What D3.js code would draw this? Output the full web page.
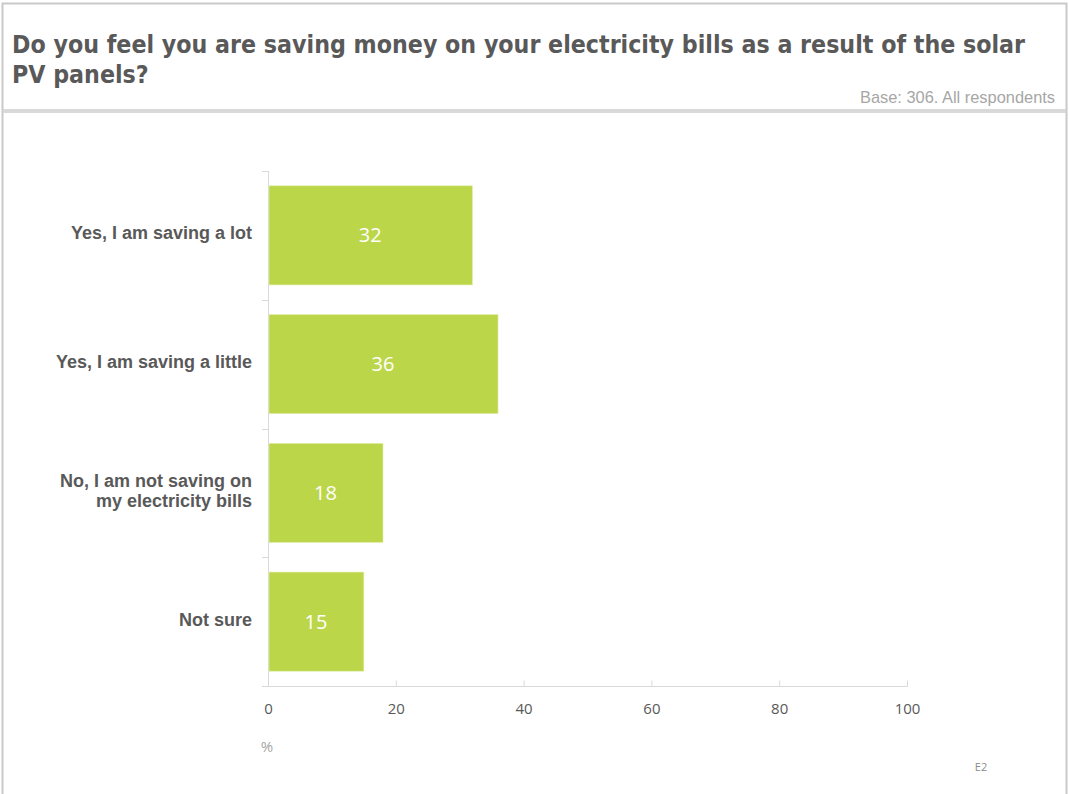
<!DOCTYPE html>
<html>
<head>
<meta charset="utf-8">
<script src="https://cdn.jsdelivr.net/npm/d3@7"></script>
<style>
  html, body { margin: 0; padding: 0; background: #fff; }
  svg { display: block; }
</style>
</head>
<body>
<svg id="chart" width="1069" height="794"></svg>
<script>
// Survey answers and shares (%)
const categories = [
  ["Yes, I am saving a lot"],
  ["Yes, I am saving a little"],
  ["No, I am not saving on", "my electricity bills"],
  ["Not sure"]
];
const values = [32, 36, 18, 15];
const xTicks = [0, 20, 40, 60, 80, 100];

const titleLines = [
  "Do you feel you are saving money on your electricity bills as a result of the solar",
  "PV panels?"
];
const baseNote = "Base: 306. All respondents";
const unitLabel = "%";
const slideCode = "E2";

const svg = d3.select("#chart");

// Slide frame and header band
const frame = svg.append("g");
frame.append("rect").attr("x", 2.5).attr("y", 3.5).attr("width", 1064).attr("height", 800)
  .attr("fill", "none").attr("stroke", "#c9c9c9").attr("stroke-width", 2);
frame.append("rect").attr("x", 3).attr("y", 109).attr("width", 1063).attr("height", 4)
  .attr("fill", "#d9d9d9");

svg.append("g").selectAll("text").data(titleLines).join("text")
  .attr("x", 12).attr("y", (d, i) => 53 + i * 30)
  .attr("font-family", "'DejaVu Sans Condensed', 'DejaVu Sans', sans-serif")
  .attr("font-weight", "bold").attr("font-size", 24.7).attr("fill", "#595959")
  .text(d => d);

svg.append("text").attr("x", 1055).attr("y", 103).attr("text-anchor", "end")
  .attr("font-family", "'Liberation Sans Narrow', 'Liberation Sans', Arial, sans-serif")
  .attr("font-size", 16.4).attr("fill", "#a6a6a6").text(baseNote);

// Plot area
const x = d3.scaleLinear().domain([0, 100]).range([268, 907]);
const y = d3.scaleBand().domain(d3.range(categories.length)).range([171, 686])
  .paddingInner(0.23).paddingOuter(0.115);

const axisColor = "#d9d9d9";

// Category axis with boundary ticks
const catAxis = svg.append("g");
catAxis.append("line").attr("x1", 268.5).attr("x2", 268.5).attr("y1", 171).attr("y2", 686)
  .attr("stroke", axisColor);
const bounds = d3.range(categories.length + 1).map(i => y.range()[0] + i * (y.range()[1] - y.range()[0]) / categories.length);
catAxis.selectAll("line.tk").data(bounds).join("line").attr("class", "tk")
  .attr("x1", 262).attr("x2", 268.5)
  .attr("y1", d => Math.round(d) + 0.5).attr("y2", d => Math.round(d) + 0.5)
  .attr("stroke", axisColor);

// Value axis along the bottom
const xAxis = d3.axisBottom(x).tickValues(xTicks).tickSize(-6).tickPadding(0).tickSizeOuter(0);
const gx = svg.append("g").attr("transform", "translate(0,686.5)").call(xAxis);
gx.select(".domain").attr("stroke", axisColor).attr("d", "M262,0H907.5");
gx.selectAll(".tick line").attr("stroke", axisColor);
gx.selectAll(".tick text")
  .attr("y", 17)
  .attr("font-family", "'Open Sans', 'Noto Sans', sans-serif")
  .attr("font-size", 15).attr("fill", "#595959");

// Bars
svg.append("g").selectAll("rect").data(values).join("rect")
  .attr("x", x(0) + 1).attr("y", (d, i) => y(i))
  .attr("width", d => x(d) - x(0) - 1).attr("height", y.bandwidth())
  .attr("fill", "#bcd64a").attr("stroke", "#e3efb0").attr("stroke-width", 0.6);

// Value labels inside bars
svg.append("g").selectAll("text").data(values).join("text")
  .attr("x", d => (x(0) + x(d)) / 2).attr("y", (d, i) => y(i) + y.bandwidth() / 2 + 7)
  .attr("text-anchor", "middle")
  .attr("font-family", "'Open Sans', 'Noto Sans', sans-serif")
  .attr("font-size", 20).attr("fill", "#ffffff")
  .text(d => d);

// Category labels
const catLabels = svg.append("g").selectAll("text").data(categories).join("text")
  .attr("text-anchor", "end")
  .attr("font-family", "'Liberation Sans', Arial, sans-serif")
  .attr("font-weight", "bold").attr("font-size", 18).attr("fill", "#595959")
  .attr("transform", (d, i) => {
    const cy = y(i) + y.bandwidth() / 2;
    const top = cy - (d.length - 1) * 10 + 4;
    return `translate(252,${top})`;
  });
catLabels.selectAll("tspan").data(d => d).join("tspan")
  .attr("x", 0).attr("dy", (d, i) => i === 0 ? 0 : 20).text(d => d);

// Unit and slide code
svg.append("text").attr("x", 267).attr("y", 752).attr("text-anchor", "middle")
  .attr("font-family", "'Open Sans', 'Noto Sans', sans-serif")
  .attr("font-size", 15).attr("fill", "#a6a6a6").text(unitLabel);

svg.append("text").attr("x", 981).attr("y", 771).attr("text-anchor", "middle")
  .attr("font-family", "'Open Sans', 'Noto Sans', sans-serif")
  .attr("font-size", 11).attr("fill", "#8c8c8c").text(slideCode);
</script>
</body>
</html>
